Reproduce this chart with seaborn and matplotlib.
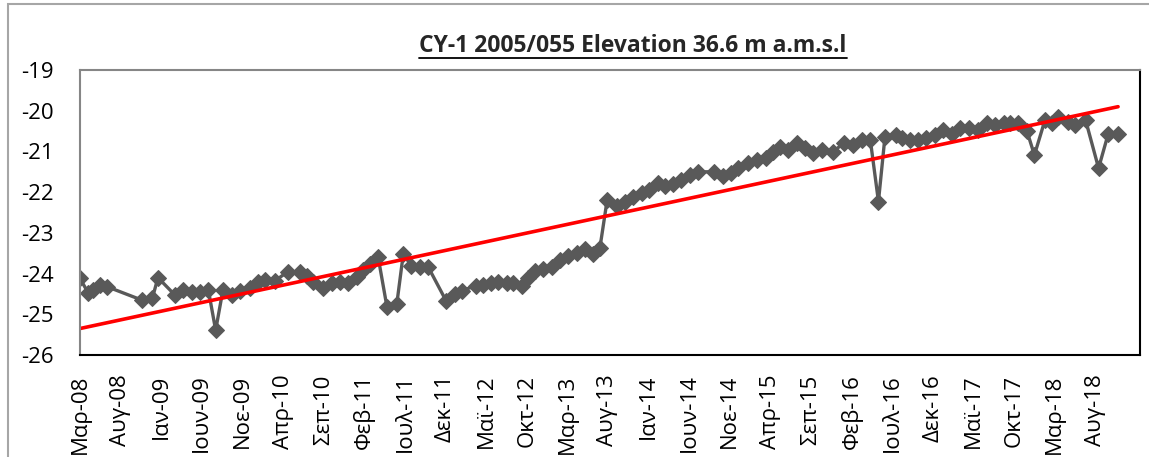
import numpy as np
import pandas as pd
import seaborn as sns
import matplotlib.pyplot as plt
from matplotlib.patches import Rectangle
from matplotlib.lines import Line2D

# months counted from Mar-08
months = [0.0, 1.0, 1.6, 2.5, 3.3, 7.6, 8.9, 9.6, 11.7, 12.7, 13.8, 14.8, 15.8, 16.7, 17.6,
          18.7, 19.7, 20.9, 21.9, 22.8, 24.0, 25.6, 27.1, 28.0, 28.7, 29.9, 31.0, 32.0, 33.0,
          34.1, 34.9, 35.7, 36.7, 37.8, 39.0, 39.8, 40.8, 41.9, 42.9, 45.1, 46.2, 47.0, 48.7,
          49.6, 50.6, 51.5, 52.6, 53.3, 54.4, 55.2, 56.0, 57.0, 58.1, 59.1, 60.1, 61.2, 62.2,
          63.2, 64.0, 64.9, 66.1, 67.1, 68.1, 69.2, 70.1, 71.1, 72.0, 73.0, 74.0, 75.1, 76.1,
          78.0, 79.2, 80.1, 81.0, 82.3, 83.4, 84.4, 85.3, 86.2, 87.2, 88.3, 89.3, 90.3, 91.4,
          92.7, 94.0, 95.2, 96.3, 97.3, 98.3, 99.1, 100.4, 101.2, 102.2, 103.2, 104.2, 105.3,
          106.3, 107.4, 108.4, 109.4, 110.5, 111.7, 112.7, 113.7, 114.5, 115.5, 116.6, 117.5,
          118.8, 119.7, 120.4, 121.6, 122.5, 123.8, 125.4, 126.6, 127.8]

level = [-24.12, -24.47, -24.40, -24.28, -24.32, -24.65, -24.61, -24.10, -24.53, -24.40,
         -24.45, -24.45, -24.40, -25.39, -24.40, -24.53, -24.42, -24.36, -24.20, -24.16,
         -24.18, -23.95, -23.97, -24.06, -24.20, -24.36, -24.24, -24.20, -24.22, -24.08,
         -23.90, -23.76, -23.59, -24.83, -24.75, -23.52, -23.81, -23.85, -23.85, -24.68,
         -24.49, -24.42, -24.30, -24.28, -24.24, -24.20, -24.22, -24.24, -24.30, -24.10,
         -23.93, -23.88, -23.83, -23.67, -23.58, -23.50, -23.40, -23.52, -23.38, -22.19,
         -22.33, -22.25, -22.11, -22.03, -21.95, -21.78, -21.86, -21.80, -21.70, -21.58,
         -21.50, -21.50, -21.60, -21.54, -21.41, -21.29, -21.21, -21.17, -21.02, -20.88,
         -20.97, -20.80, -20.92, -21.05, -20.97, -21.01, -20.80, -20.84, -20.72, -20.72,
         -22.23, -20.64, -20.60, -20.68, -20.72, -20.72, -20.66, -20.60, -20.47, -20.56,
         -20.43, -20.43, -20.47, -20.31, -20.35, -20.31, -20.31, -20.31, -20.51, -21.09,
         -20.23, -20.31, -20.15, -20.27, -20.35, -20.23, -21.41, -20.56, -20.56]

tick_months = list(range(0, 126, 5))
tick_labels = ['Μαρ-08', 'Αυγ-08', 'Ιαν-09', 'Ιουν-09', 'Νοε-09', 'Απρ-10', 'Σεπ-10',
               'Φεβ-11', 'Ιουλ-11', 'Δεκ-11', 'Μαϊ-12', 'Οκτ-12', 'Μαρ-13', 'Αυγ-13',
               'Ιαν-14', 'Ιουν-14', 'Νοε-14', 'Απρ-15', 'Σεπ-15', 'Φεβ-16', 'Ιουλ-16',
               'Δεκ-16', 'Μαϊ-17', 'Οκτ-17', 'Μαρ-18', 'Αυγ-18']

sns.set_style('white')
plt.rcParams['font.family'] = ['Open Sans', 'DejaVu Sans']
plt.rcParams['axes.unicode_minus'] = False

W, H = 1149, 457
fig = plt.figure(figsize=(W / 100, H / 100), dpi=100)
ax = fig.add_axes([80 / W, 1 - 355 / H, 1060 / W, 285 / H])

df = pd.DataFrame({'month': months, 'level': level})
sns.lineplot(data=df, x='month', y='level', ax=ax, color='#595959', lw=2.4,
             marker='D', markersize=8.5, markeredgecolor='#595959')
sns.regplot(data=df, x='month', y='level', ax=ax, scatter=False, ci=None,
            color='#ff0000', line_kws={'lw': 2.6})

ax.set_xlim(0, 130.5)
ax.set_ylim(-26, -19)
ax.set_yticks(range(-26, -18))
ax.set_xticks(tick_months)
ax.set_xticklabels(tick_labels, rotation=90)
ax.tick_params(length=0, labelsize=16, colors='black')
ax.tick_params(axis='y', pad=19)
ax.tick_params(axis='x', pad=14)
ax.set_xlabel('')
ax.set_ylabel('')
for side in ['top', 'left']:
    ax.spines[side].set_color('#868686')
    ax.spines[side].set_linewidth(1.5)
for side in ['bottom', 'right']:
    ax.spines[side].set_color('black')
    ax.spines[side].set_linewidth(1.5)

# chart area border
fig.add_artist(Rectangle((8 / W, -0.1), 1.2, 1 - 4 / H + 0.1, transform=fig.transFigure,
                         fill=False, edgecolor='#a6a6a6', lw=1.5, clip_on=False))

t = fig.text(633 / W, 1 - 46 / H, 'CY-1 2005/055 Elevation 36.6 m a.m.s.l',
             ha='center', va='center', fontsize=16.5, fontweight='bold')
fig.canvas.draw()
bb = t.get_window_extent()
fig.add_artist(Line2D([bb.x0 / W, bb.x1 / W], [1 - 58 / H, 1 - 58 / H],
                      transform=fig.transFigure, color='black', lw=1.3))

fig.savefig('out.png', dpi=100)
